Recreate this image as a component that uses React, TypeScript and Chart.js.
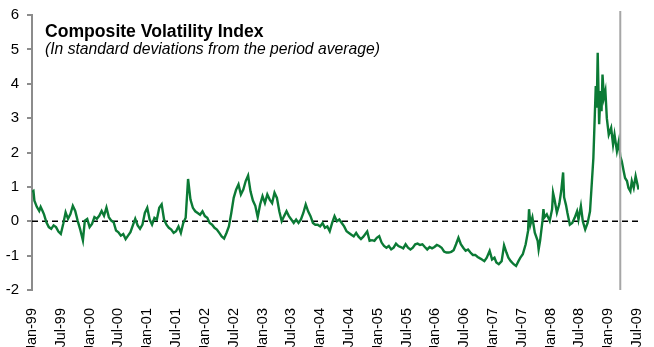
import React, { useEffect, useRef } from 'react';
import { Chart, registerables } from 'chart.js';

Chart.register(...registerables);

// Time position of each observation, in months since Jan-1999
const months = [
  0, 0.3, 0.5, 1, 1.5, 1.8, 2.2, 2.5, 3, 3.5, 4, 4.5, 5, 5.5, 6, 6.5, 7, 7.5, 8, 8.5, 9, 9.5, 10, 10.6,
  11, 11.5, 12, 12.5, 13, 13.5, 14, 14.5, 15, 15.5, 16, 16.5, 17, 17.5, 18, 18.5, 19, 19.5, 20, 20.5,
  21, 21.5, 22, 22.5, 23, 23.5, 24, 24.5, 25, 25.5, 26, 26.5, 27, 27.5, 28, 28.5, 29, 29.5, 30, 30.5,
  31, 31.5, 32, 32.5, 33, 33.5, 34, 34.5, 35, 35.5, 36, 36.5, 37, 37.5, 38, 38.5, 39, 39.5, 40, 40.5,
  41, 41.5, 42, 42.5, 43, 43.5, 44, 44.5, 45, 45.5, 46, 46.5, 47, 47.5, 48, 48.5, 49, 49.5, 50, 50.5,
  51, 51.5, 52, 52.5, 53, 53.5, 54, 54.5, 55, 55.5, 56, 56.5, 57, 57.5, 58, 58.5, 59, 59.5, 60, 60.5,
  61, 61.5, 62, 62.5, 63, 63.5, 64, 64.5, 65, 65.5, 66, 66.5, 67, 67.5, 68, 68.5, 69, 69.8, 70.3, 70.8,
  71.3, 71.8, 72.3, 72.8, 73.3, 73.8, 74.3, 74.8, 75.3, 75.8, 76.3, 76.8, 77.3, 77.8, 78.3, 78.8, 79.3,
  79.8, 80.3, 80.8, 81.3, 81.8, 82.3, 82.8, 83.3, 83.8, 84.3, 84.8, 85.3, 85.8, 86.3, 86.8, 87.3, 87.8,
  88.3, 88.8, 89.3, 89.8, 90.3, 90.8, 91.3, 91.8, 92.3, 92.8, 93.3, 93.7, 94.2, 94.7, 95.3, 95.8, 96.3,
  96.7, 97.2, 97.8, 98.3, 98.8, 99.2, 99.7, 100.3, 100.8, 101.3, 101.7, 102.2, 102.8, 103.3, 103.5,
  103.8, 104.2, 104.7, 105.3, 105.5, 105.8, 106.3, 106.5, 106.7, 107.2, 107.8, 108.3, 108.5, 108.8,
  109.3, 109.8, 110.2, 110.6, 110.8, 111.2, 111.5, 112, 112.5, 113, 113.5, 113.8, 114.3, 114.7, 115.2,
  115.7, 116.2, 116.6, 116.9, 117.2, 117.4, 117.6, 117.8, 118.1, 118.4, 118.6, 118.8, 119.1, 119.4,
  119.7, 120.1, 120.6, 121, 121.3, 121.8, 122.2, 122.5, 122.8, 123.2, 123.5, 123.9, 124.2, 124.6,
  124.9, 125.3, 125.7, 126, 126.3,
];

// Composite volatility index, standard deviations from the period average
const values = [
  0.85, 0.88, 0.6, 0.42, 0.3, 0.42, 0.3, 0.2, -0.03, -0.17, -0.22, -0.12, -0.17, -0.3, -0.37, -0.08,
  0.26, 0.07, 0.21, 0.45, 0.3, 0.02, -0.22, -0.56,
  0.02, 0.07, -0.17, -0.08, 0.12, 0.07, 0.16, 0.3, 0.16, 0.4, 0.12, 0.02, -0.03, -0.27, -0.32, -0.42,
  -0.37, -0.52, -0.42, -0.32,
  -0.12, 0.07, -0.12, -0.22, -0.1, 0.24, 0.39, 0.05, -0.1, 0.1, 0.05, 0.39, 0.49, 0.05, -0.1, -0.19,
  -0.24, -0.34, -0.29, -0.15,
  -0.34, -0.05, 0.1, 1.23, 0.63, 0.39, 0.29, 0.24, 0.19, 0.29, 0.15, 0.1, -0.05, -0.1, -0.19, -0.24,
  -0.34, -0.44, -0.5, -0.34,
  -0.15, 0.24, 0.68, 0.92, 1.07, 0.78, 0.92, 1.17, 1.33, 0.87, 0.6, 0.45, 0.12, 0.49, 0.73, 0.53,
  0.78, 0.63, 0.53, 0.83,
  0.68, 0.29, 0.0, 0.15, 0.29, 0.15, 0.05, -0.05, 0.05, -0.05, 0.05, 0.24, 0.49, 0.29, 0.15, -0.05,
  -0.1, -0.1, -0.15, -0.05,
  -0.19, -0.15, -0.29, -0.05, 0.15, 0.0, 0.05, -0.05, -0.15, -0.29, -0.34, -0.39, -0.44, -0.34, -0.45,
  -0.52, -0.45, -0.3, -0.57, -0.55,
  -0.57, -0.48, -0.43, -0.62, -0.72, -0.77, -0.72, -0.82, -0.77, -0.65, -0.72, -0.75, -0.79, -0.67,
  -0.77, -0.82, -0.77,
  -0.67, -0.65, -0.69, -0.67, -0.75, -0.82, -0.75, -0.79, -0.75, -0.69, -0.72, -0.77, -0.88, -0.91,
  -0.91, -0.89, -0.84,
  -0.67, -0.48, -0.67, -0.77, -0.86, -0.82, -0.91, -0.98, -0.98, -1.04, -1.08, -1.11, -1.16, -1.06,
  -0.86, -1.11, -1.06,
  -1.2, -1.25, -1.16, -0.7, -0.91, -1.06, -1.16, -1.25, -1.3, -1.16, -1.06, -0.96, -0.67, -0.28, 0.35,
  -0.09, 0.11, -0.33, -0.57, -0.82, -0.57, 0.01, 0.35, 0.11, 0.2, 0.01, 0.35, 0.83, 0.64,
  0.25, 0.5, 0.88, 1.42, 0.7, 0.47, 0.24, -0.1, -0.05, 0.1, 0.29, 0.05, 0.44, 0.0, -0.24,
  -0.05, 0.29, 1.17, 1.84, 3.1, 3.93, 3.3, 4.9, 2.82, 3.79, 3.2, 4.27, 3.6, 3.79,
  3.0, 2.52, 2.72, 2.23, 2.52, 2.04, 2.33, 1.89, 1.75, 1.46, 1.26, 1.17, 0.97, 0.87,
  1.17, 0.97, 1.31, 1.12, 0.92,
];

const tickLabels = [
  'Jan-99', 'Jul-99', 'Jan-00', 'Jul-00', 'Jan-01', 'Jul-01', 'Jan-02', 'Jul-02', 'Jan-03', 'Jul-03',
  'Jan-04', 'Jul-04', 'Jan-05', 'Jul-05', 'Jan-06', 'Jul-06', 'Jan-07', 'Jul-07', 'Jan-08', 'Jul-08',
  'Jan-09', 'Jul-09',
];
const monthsPerTick = 6;
const lastMonth = 126.4;
const yMin = -2;
const yMax = 6;
const markerMonth = 122.5; // vertical reference line (Mar-09)
const title = 'Composite Volatility Index';
const subtitle = '(In standard deviations from the period average)';

const FONT = '"Liberation Sans", Arial, Helvetica, sans-serif';

export default function App() {
  const ref = useRef<HTMLCanvasElement>(null);

  useEffect(() => {
    if (!ref.current) return;

    const overlay = {
      id: 'overlay',
      beforeDatasetsDraw(chart: any) {
        const { ctx, chartArea, scales } = chart;
        const y0 = scales.y.getPixelForValue(0);
        ctx.save();
        ctx.strokeStyle = '#000000';
        ctx.lineWidth = 1.3;
        ctx.setLineDash([6, 4]);
        ctx.beginPath();
        ctx.moveTo(chartArea.left, y0);
        ctx.lineTo(chartArea.right, y0);
        ctx.stroke();
        ctx.restore();
      },
      afterDatasetsDraw(chart: any) {
        const { ctx, chartArea, scales } = chart;
        const xm = scales.x.getPixelForValue(markerMonth);
        ctx.save();
        ctx.strokeStyle = '#a6a6a6';
        ctx.lineWidth = 2;
        ctx.beginPath();
        ctx.moveTo(xm, chartArea.top - 4);
        ctx.lineTo(xm, chartArea.bottom);
        ctx.stroke();

        ctx.fillStyle = '#000000';
        ctx.textAlign = 'left';
        ctx.textBaseline = 'alphabetic';
        ctx.font = `bold 17.6px ${FONT}`;
        ctx.fillText(title, chartArea.left + 13, 37);
        ctx.font = `italic 15.7px ${FONT}`;
        ctx.fillText(subtitle, chartArea.left + 13, 54);
        ctx.restore();
      },
    };

    const chart = new Chart(ref.current, {
      type: 'line',
      data: {
        datasets: [
          {
            data: months.map((m, i) => ({ x: m, y: values[i] })),
            borderColor: '#0b7a35',
            borderWidth: 2.4,
            pointRadius: 0,
            tension: 0,
            fill: false,
          },
        ],
      },
      options: {
        responsive: false,
        animation: false,
        events: [],
        layout: { padding: { top: 15, right: 15, left: 0, bottom: 0 } },
        plugins: { legend: { display: false }, tooltip: { enabled: false }, title: { display: false } },
        scales: {
          x: {
            type: 'linear',
            min: 0,
            max: lastMonth,
            grid: { display: false },
            border: { display: false },
            afterBuildTicks: (scale: any) => {
              scale.ticks = tickLabels.map((_, i) => ({ value: i * monthsPerTick }));
            },
            afterFit: (scale: any) => {
              scale.height = 57;
              scale.paddingLeft = 0;
              scale.paddingRight = 0;
            },
            ticks: {
              autoSkip: false,
              minRotation: 90,
              maxRotation: 90,
              padding: 10,
              color: '#000000',
              font: { family: FONT, size: 14.5 },
              callback: (_v: any, i: number) => tickLabels[i],
            },
          },
          y: {
            min: yMin,
            max: yMax,
            grid: {
              drawOnChartArea: false,
              drawTicks: true,
              tickLength: 5,
              color: '#8c8c8c',
              lineWidth: 2,
            },
            border: { display: true, color: '#8c8c8c', width: 2 },
            afterFit: (scale: any) => {
              scale.width = 32;
              scale.paddingTop = 0;
              scale.paddingBottom = 0;
            },
            ticks: {
              stepSize: 1,
              padding: 8,
              color: '#000000',
              font: { family: FONT, size: 15 },
            },
          },
        },
      },
      plugins: [overlay],
    });

    return () => chart.destroy();
  }, []);

  return (
    <div style={{ position: 'fixed', left: 0, top: 0, width: 654, height: 347, background: '#ffffff' }}>
      <canvas ref={ref} width={654} height={347} style={{ display: 'block' }} />
    </div>
  );
}
